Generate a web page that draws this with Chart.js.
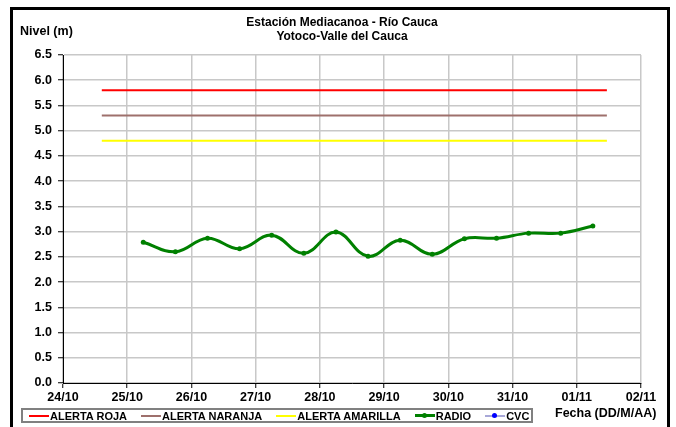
<!DOCTYPE html>
<html>
<head>
<meta charset="utf-8">
<script src="https://cdn.jsdelivr.net/npm/chart.js@4.4.1/dist/chart.umd.min.js"></script>
<style>
  html, body { margin: 0; padding: 0; background: #fff; overflow: hidden; }
  body { width: 676px; height: 427px; position: relative; font-family: "Liberation Sans", Arial, sans-serif; font-weight: bold; color: #000; }
  #chart { position: absolute; left: 0; top: 0; }
  #frame { position: absolute; left: 10px; top: 7px; width: 654px; height: 500px; border: 3px solid #000; pointer-events: none; }
  #title { position: absolute; left: 242px; width: 200px; top: 15px; text-align: center; font-size: 12px; line-height: 14px; }
  #ylabel { position: absolute; left: 20px; top: 24px; font-size: 12.5px; }
  #xlabel { position: absolute; left: 555px; top: 406px; font-size: 12.5px; }
  #legend { position: absolute; left: 21px; top: 408px; width: 512px; height: 15px; box-sizing: border-box; border: 2px solid #808080; display: flex; align-items: center; padding-left: 6px; font-size: 11px; white-space: nowrap; }
  .item { display: flex; align-items: center; margin-right: 14px; }
  .sw { position: relative; width: 20px; height: 10px; margin-right: 1px; }
  .sw .ln { position: absolute; left: 0; right: 0; top: 4px; height: 2px; }
  .sw .dt { position: absolute; left: 7px; top: 2.5px; width: 5px; height: 5px; border-radius: 50%; }
</style>
</head>
<body>
<canvas id="chart" width="676" height="427"></canvas>
<div id="frame"></div>
<div id="title">Estación Mediacanoa - Río Cauca<br>Yotoco-Valle del Cauca</div>
<div id="ylabel">Nivel (m)</div>
<div id="xlabel">Fecha (DD/M/AA)</div>
<div id="legend"></div>
<script>
/* Estación Mediacanoa — niveles del río Cauca con umbrales de alerta */

// eje x: días desde 24/10
const diasEtiquetas = ["24/10", "25/10", "26/10", "27/10", "28/10", "29/10", "30/10", "31/10", "01/11", "02/11"];
const nivelTicks = [0, 0.5, 1, 1.5, 2, 2.5, 3, 3.5, 4, 4.5, 5, 5.5, 6, 6.5];

// lecturas de radio (fecha dd/mm hh:mm, nivel m)
const radioFechas = [
  "25/10 06:00", "25/10 18:00", "26/10 06:00", "26/10 18:00", "27/10 06:00",
  "27/10 18:00", "28/10 06:00", "28/10 18:00", "29/10 06:00", "29/10 18:00",
  "30/10 06:00", "30/10 18:00", "31/10 06:00", "31/10 18:00", "01/11 06:00",
];
const radioNiveles = [2.79, 2.60, 2.87, 2.66, 2.93, 2.57, 2.99, 2.51, 2.83, 2.55, 2.86, 2.87, 2.97, 2.97, 3.11];
const cvcFechas = [];
const cvcNiveles = [];

// umbrales de alerta (tramo dibujado)
const alertaInicio = "24/10 14:30";
const alertaFin = "01/11 11:15";
const alertaRoja = 5.8;
const alertaNaranja = 5.3;
const alertaAmarilla = 4.8;

function diaDesdeInicio(s) {
  const [fecha, hora] = s.split(" ");
  const [dd, mm] = fecha.split("/").map(Number);
  const [h, m] = (hora || "00:00").split(":").map(Number);
  const base = mm === 10 ? dd - 24 : dd + 7;
  return base + (h + m / 60) / 24;
}

const puntos = (fechas, niveles) => fechas.map((f, i) => ({ x: diaDesdeInicio(f), y: niveles[i] }));
const umbral = (v) => [{ x: diaDesdeInicio(alertaInicio), y: v }, { x: diaDesdeInicio(alertaFin), y: v }];

const FONT = { family: '"Liberation Sans", Arial, sans-serif', size: 12.5, weight: "bold" };

const datasets = [
  { label: "ALERTA ROJA", data: umbral(alertaRoja), borderColor: "#ff0000", backgroundColor: "#ff0000", borderWidth: 2, pointRadius: 0 },
  { label: "ALERTA NARANJA", data: umbral(alertaNaranja), borderColor: "#9e706c", backgroundColor: "#9e706c", borderWidth: 2, pointRadius: 0 },
  { label: "ALERTA AMARILLA", data: umbral(alertaAmarilla), borderColor: "#ffff00", backgroundColor: "#ffff00", borderWidth: 2, pointRadius: 0 },
  { label: "RADIO", data: puntos(radioFechas, radioNiveles), borderColor: "#008000", backgroundColor: "#008000", borderWidth: 3, pointRadius: 2.5, pointBorderWidth: 0, tension: 0.4 },
  { label: "CVC", data: puntos(cvcFechas, cvcNiveles), borderColor: "#a8a8d8", backgroundColor: "#0000ff", borderWidth: 2, pointRadius: 2 },
];

const chart = new Chart(document.getElementById("chart"), {
  type: "line",
  data: { datasets },
  options: {
    responsive: false,
    animation: false,
    layout: { padding: { top: 55, right: 35, bottom: 0, left: 0 } },
    plugins: { legend: { display: false }, tooltip: { enabled: false } },
    scales: {
      x: {
        type: "linear",
        min: 0,
        max: diasEtiquetas.length - 1,
        afterFit: (s) => { s.height = 44; },
        afterBuildTicks: (s) => { s.ticks = diasEtiquetas.map((_, i) => ({ value: i })); },
        ticks: { color: "#000", font: FONT, padding: 2, maxRotation: 0, autoSkip: false, callback: (v) => diasEtiquetas[v] },
        grid: { color: "#c8c8c8", lineWidth: 1.5, tickLength: 5, tickColor: "#000", tickWidth: 1 },
        border: { color: "#000", width: 1 },
      },
      y: {
        min: 0,
        max: nivelTicks[nivelTicks.length - 1],
        afterFit: (s) => { s.width = 63; },
        afterBuildTicks: (s) => { s.ticks = nivelTicks.map((v) => ({ value: v })); },
        ticks: { color: "#000", font: FONT, padding: 6, callback: (v) => v.toFixed(1) },
        grid: { color: "#c8c8c8", lineWidth: 1.5, tickLength: 5, tickColor: "#000", tickWidth: 1 },
        border: { color: "#000", width: 1 },
      },
    },
  },
});

/* leyenda en HTML, con recuadro como en el original */
const legend = document.getElementById("legend");
chart.data.datasets.forEach((ds) => {
  const item = document.createElement("div");
  item.className = "item";
  const dot = ds.pointRadius > 0 ? `<span class="dt" style="background:${ds.backgroundColor}"></span>` : "";
  const h = ds.borderWidth;
  item.innerHTML = `<span class="sw"><span class="ln" style="background:${ds.borderColor};height:${h}px;top:${5 - h / 2}px"></span>${dot}</span>${ds.label}`;
  legend.appendChild(item);
});
</script>
</body>
</html>
